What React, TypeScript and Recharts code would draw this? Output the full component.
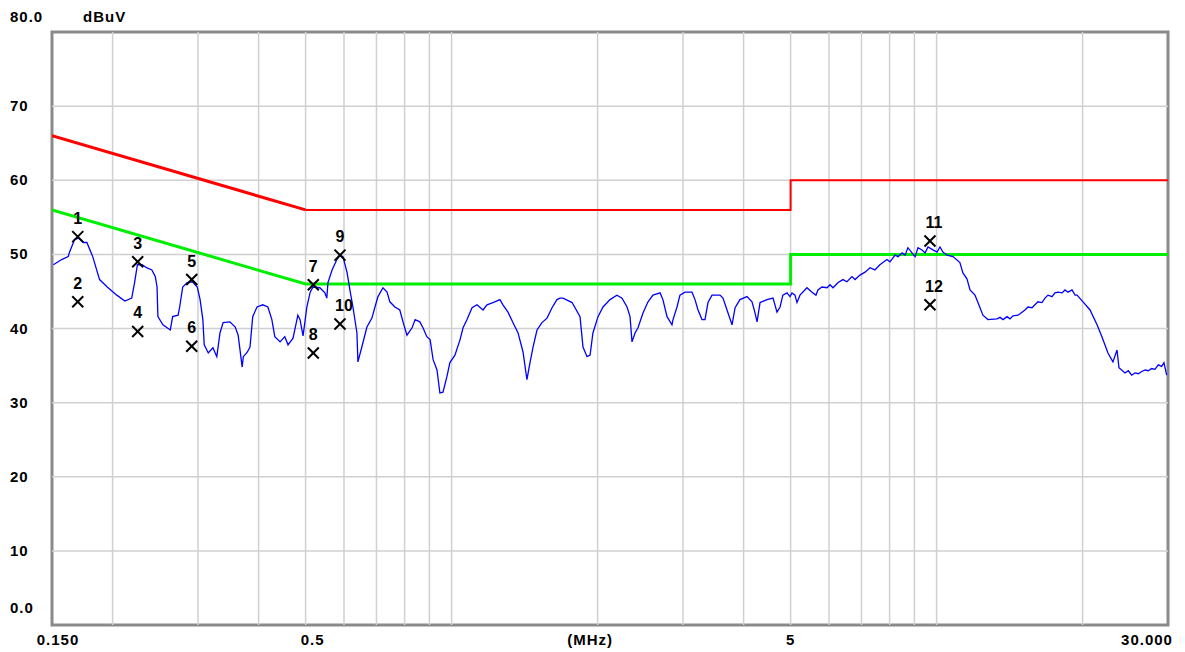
import React from 'react';
import { ComposedChart, Line, XAxis, YAxis, ReferenceLine, ReferenceArea, Scatter } from 'recharts';

// Measured trace (MHz, dBuV)
const traceFreq = [
  0.151, 0.157, 0.162, 0.163, 0.167, 0.170, 0.174, 0.177, 0.182, 0.188,
  0.195, 0.204, 0.212, 0.219, 0.222, 0.225, 0.230, 0.235, 0.241, 0.245,
  0.247, 0.248, 0.254, 0.263, 0.266, 0.273, 0.275, 0.279, 0.285, 0.292,
  0.299, 0.303, 0.307, 0.309, 0.315, 0.322, 0.328, 0.333, 0.338, 0.349,
  0.358, 0.363, 0.370, 0.372, 0.379, 0.384, 0.389, 0.397, 0.408, 0.418,
  0.426, 0.432, 0.443, 0.453, 0.460, 0.471, 0.482, 0.487, 0.494, 0.503,
  0.511, 0.518, 0.535, 0.548, 0.553, 0.556, 0.567, 0.580, 0.589, 0.597,
  0.609, 0.617, 0.626, 0.638, 0.641, 0.653, 0.669, 0.685, 0.695, 0.705,
  0.722, 0.736, 0.746, 0.764, 0.782, 0.794, 0.809, 0.829, 0.841, 0.860,
  0.873, 0.889, 0.903, 0.916, 0.933, 0.946, 0.960, 0.978, 0.992, 1.016,
  1.041, 1.056, 1.076, 1.102, 1.128, 1.161, 1.183, 1.217, 1.258, 1.276,
  1.307, 1.338, 1.371, 1.404, 1.430, 1.451, 1.472, 1.500, 1.536, 1.573,
  1.611, 1.649, 1.673, 1.697, 1.772, 1.840, 1.866, 1.902, 1.930, 1.956,
  2.004, 2.052, 2.122, 2.192, 2.246, 2.300, 2.333, 2.355, 2.389, 2.423,
  2.481, 2.541, 2.601, 2.691, 2.727, 2.781, 2.847, 2.861, 2.916, 2.957,
  3.029, 3.131, 3.176, 3.222, 3.283, 3.330, 3.378, 3.443, 3.576, 3.627,
  3.715, 3.786, 3.842, 3.932, 4.065, 4.163, 4.223, 4.264, 4.325, 4.470,
  4.600, 4.687, 4.756, 4.820, 4.915, 4.986, 5.033, 5.105, 5.154, 5.228,
  5.404, 5.535, 5.640, 5.693, 5.802, 5.943, 6.029, 6.115, 6.264, 6.413,
  6.533, 6.69, 6.79, 6.95, 7.12, 7.29, 7.46, 7.64, 7.751, 7.90,
  8.015, 8.21, 8.33, 8.49, 8.61, 8.726, 8.90, 9.03, 9.154, 9.33,
  9.47, 9.60, 9.83, 10.02, 10.16, 10.31, 10.51, 10.66, 10.81, 11.17,
  11.33, 11.55, 11.72, 12.00, 12.17, 12.46, 12.76, 13.32, 13.51, 13.71,
  13.97, 14.17, 14.37, 14.72, 15.00, 15.21, 15.43, 15.73, 15.95, 16.18,
  16.49, 16.73, 16.97, 17.30, 17.54, 17.80, 18.14, 18.40, 18.66, 19.02,
  19.30, 19.48, 20.04, 20.72, 21.42, 21.92, 22.56, 23.10, 23.55, 23.77,
  24.46, 24.85, 25.25, 25.65, 26.06, 26.48, 26.91, 27.32, 27.76, 28.20,
  28.65, 29.11, 29.43, 29.81,
];
const traceLevel = [
  48.6, 49.3, 49.7, 50.3, 52.0, 52.2, 51.6, 51.6, 49.7, 46.6,
  45.6, 44.5, 43.7, 44.1, 46.2, 48.6, 48.6, 48.2, 47.9, 47.0,
  45.6, 41.6, 40.5, 39.8, 41.6, 41.8, 42.9, 45.6, 46.2, 46.3,
  45.6, 43.9, 41.2, 37.8, 36.7, 37.4, 36.2, 39.4, 40.8, 40.9,
  40.2, 39.1, 34.8, 36.2, 36.8, 37.5, 41.6, 42.9, 43.2, 42.9,
  41.2, 38.9, 38.2, 38.9, 37.8, 38.7, 41.8, 41.2, 39.0, 42.9,
  44.9, 45.6, 45.5, 44.8, 44.1, 46.2, 47.9, 49.3, 49.9, 49.7,
  47.5, 45.2, 42.9, 39.4, 35.5, 37.5, 40.2, 41.4, 42.9, 44.3,
  45.5, 44.9, 43.6, 42.9, 42.5, 40.9, 39.1, 40.1, 41.2, 40.9,
  40.1, 38.9, 38.5, 35.8, 34.4, 31.3, 31.4, 33.5, 35.4, 36.4,
  38.5, 40.1, 41.2, 42.8, 43.2, 42.5, 43.2, 43.5, 43.9, 43.2,
  42.2, 40.8, 39.4, 36.8, 33.1, 35.4, 37.5, 39.8, 40.8, 41.4,
  42.8, 43.9, 44.1, 44.1, 43.5, 41.6, 37.5, 36.2, 36.4, 39.4,
  41.6, 42.9, 43.9, 44.5, 44.1, 42.9, 41.6, 38.2, 39.4, 40.1,
  42.1, 43.6, 44.5, 44.8, 43.9, 41.6, 40.5, 41.2, 42.9, 44.5,
  44.9, 44.9, 43.9, 42.5, 41.2, 41.2, 43.5, 44.5, 44.5, 44.1,
  42.1, 40.5, 42.8, 43.9, 44.3, 43.6, 42.1, 40.9, 43.5, 43.9,
  44.1, 42.2, 42.9, 44.5, 44.8, 44.3, 44.8, 44.5, 43.5, 44.5,
  45.5, 44.9, 44.5, 45.2, 45.6, 45.5, 45.9, 45.5, 46.2, 46.6,
  46.3, 47.0, 46.6, 47.2, 47.6, 48.2, 47.9, 48.6, 48.9, 49.3,
  49.0, 49.9, 49.7, 50.2, 49.9, 50.9, 50.2, 49.7, 50.9, 50.6,
  50.2, 51.0, 50.6, 50.3, 51.0, 50.3, 49.9, 49.8, 49.7, 48.9,
  47.5, 46.7, 45.2, 44.5, 43.5, 41.8, 41.2, 41.3, 41.5, 41.2,
  41.6, 41.3, 41.7, 41.8, 42.2, 42.5, 42.9, 42.8, 43.2, 43.6,
  43.5, 44.1, 44.5, 44.3, 44.8, 44.9, 44.8, 45.2, 44.9, 45.2,
  44.5, 44.5, 43.6, 42.5, 40.5, 38.9, 36.7, 35.5, 37.1, 34.7,
  34.0, 34.3, 33.7, 34.0, 33.9, 34.2, 34.4, 34.3, 34.6, 34.5,
  35.1, 34.9, 35.4, 33.7,
];

// Limit lines
const qpSlopeFreq = [0.15, 0.5];
const qpSlopeLevel = [66, 56];
const qpFlatFreq = [0.5, 5, 5, 30];
const qpFlatLevel = [56, 56, 60, 60];
const avFreq = [0.15, 0.5, 5, 5, 30];
const avLevel = [56, 46, 46, 50, 50];

// Markers
const markerNo = ['1', '2', '3', '4', '5', '6', '7', '8', '9', '10', '11', '12'];
const markerFreq = [0.1695, 0.1695, 0.2253, 0.2253, 0.2912, 0.2912, 0.5186, 0.5186, 0.5887, 0.5887, 9.69, 9.69];
const markerLevel = [52.4, 43.6, 49.0, 39.6, 46.6, 37.6, 45.9, 36.7, 49.9, 40.6, 51.8, 43.2];

// Axes
const xTicks = [0.15, 0.5, 1.93, 5, 30];
const xTickLabels = ['0.150', '0.5', '(MHz)', '5', '30.000'];
const xGrid = [0.2, 0.3, 0.4, 0.5, 0.6, 0.7, 0.8, 0.9, 1, 2, 3, 4, 5, 6, 7, 8, 9, 10, 20];
const yTicks = [0, 10, 20, 30, 40, 50, 60, 70, 80];
const yTickLabels = ['0.0', '10', '20', '30', '40', '50', '60', '70', '80.0'];
const yGrid = [10, 20, 30, 40, 50, 60, 70];

const toPts = (fs: number[], vs: number[]) => fs.map((f, i) => ({ f, v: vs[i] }));
const traceData = toPts(traceFreq, traceLevel);
const qpSlopeData = toPts(qpSlopeFreq, qpSlopeLevel);
const qpFlatData = toPts(qpFlatFreq, qpFlatLevel);
const avData = toPts(avFreq, avLevel);
const markerData = markerFreq.map((f, i) => ({ f, v: markerLevel[i], n: markerNo[i] }));

const FONT = '"Liberation Sans", Arial, sans-serif';

const XTick = (props: any) => {
  const { x, payload, index } = props;
  const lbl = xTickLabels[index] ?? String(payload.value);
  const dx = index === 0 ? 6 : index === 1 ? 7 : index === 4 ? -21 : 0;
  return (
    <text x={x + dx} y={645} textAnchor="middle" fontFamily={FONT} fontWeight="bold" fontSize={15} letterSpacing={1} fill="#000">
      {lbl}
    </text>
  );
};

const YTick = (props: any) => {
  const { y, payload, index } = props;
  const lbl = yTickLabels[index] ?? String(payload.value);
  const v = payload.value;
  const dy = v === 0 ? -17 : v === 80 ? -15 : 0;
  return (
    <text x={10} y={y + dy + 5} textAnchor="start" fontFamily={FONT} fontWeight="bold" fontSize={15} letterSpacing={1} fill="#000">
      {lbl}
    </text>
  );
};

const MarkerShape = (props: any) => {
  const { cx, cy, payload } = props;
  const s = 5.5;
  const dx = payload.n.length > 1 ? 4 : 0;
  return (
    <g>
      <line x1={cx - s} y1={cy - s} x2={cx + s} y2={cy + s} stroke="#000" strokeWidth={2} />
      <line x1={cx - s} y1={cy + s} x2={cx + s} y2={cy - s} stroke="#000" strokeWidth={2} />
      <text x={cx + dx} y={cy - 13} textAnchor="middle" fontFamily={FONT} fontWeight="bold" fontSize={16} fill="#000">
        {payload.n}
      </text>
    </g>
  );
};

export default function App() {
  return (
    <div style={{ position: 'absolute', left: 0, top: 0, width: 1185, height: 652, background: '#fff' }}>
      <ComposedChart width={1185} height={652} margin={{ top: 32, right: 17, bottom: 0, left: 0 }}>
        <XAxis
          dataKey="f"
          type="number"
          scale="log"
          domain={[0.15, 30]}
          allowDataOverflow
          ticks={xTicks}
          tick={<XTick />}
          axisLine={false}
          tickLine={false}
          height={27}
          interval={0}
        />
        <YAxis
          type="number"
          domain={[0, 80]}
          ticks={yTicks}
          tick={<YTick />}
          axisLine={false}
          tickLine={false}
          width={52}
          interval={0}
        />
        {xGrid.map((g) => (
          <ReferenceLine key={'x' + g} x={g} stroke="#d0d0d0" strokeWidth={1.5} />
        ))}
        {yGrid.map((g) => (
          <ReferenceLine key={'y' + g} y={g} stroke="#d0d0d0" strokeWidth={1.5} />
        ))}
        <Line data={qpSlopeData} dataKey="v" stroke="#ff0000" strokeWidth={3} dot={false} isAnimationActive={false} />
        <Line data={qpFlatData} dataKey="v" stroke="#ff0000" strokeWidth={2} dot={false} isAnimationActive={false} />
        <Line data={avData} dataKey="v" stroke="#00ee00" strokeWidth={3} dot={false} isAnimationActive={false} />
        <Line data={traceData} dataKey="v" stroke="#0000ff" strokeWidth={1.3} dot={false} isAnimationActive={false} />
        <Scatter data={markerData} dataKey="v" shape={<MarkerShape />} isAnimationActive={false} />
        <ReferenceArea x1={0.15} x2={30} y1={0} y2={80} fill="none" stroke="#8a8a8a" strokeWidth={3} />
      </ComposedChart>
      <div
        style={{
          position: 'absolute',
          left: 83,
          top: 9,
          fontFamily: FONT,
          fontWeight: 'bold',
          fontSize: 15,
          letterSpacing: 1,
          lineHeight: '16px',
        }}
      >
        dBuV
      </div>
    </div>
  );
}
